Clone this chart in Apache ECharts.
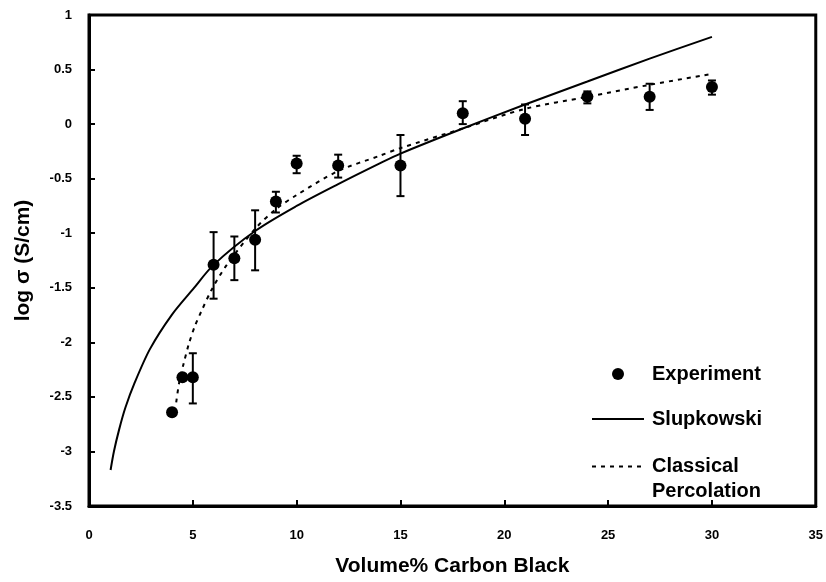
<!DOCTYPE html>
<html>
<head>
<meta charset="utf-8">
<title>log sigma vs carbon black</title>
<script src="https://cdn.jsdelivr.net/npm/echarts@6/dist/echarts.min.js"></script>
<style>
  html, body { margin: 0; padding: 0; background: #fff; }
  #chart { width: 826px; height: 582px; }
</style>
</head>
<body>
<div id="chart"></div>
<script>
// experiment: volume% carbon black, log sigma, error bar low / high
var expX = [4, 4.5, 5, 6, 7, 8, 9, 10, 12, 15, 18, 21, 24, 27, 30]
var expY = [-2.64, -2.32, -2.32, -1.29, -1.23, -1.06, -0.71, -0.36, -0.38, -0.38, 0.10, 0.05, 0.25, 0.25, 0.34]
var expLow = [-2.67, -2.34, -2.56, -1.60, -1.43, -1.34, -0.81, -0.45, -0.49, -0.66, 0.00, -0.10, 0.19, 0.13, 0.27]
var expHigh = [-2.61, -2.30, -2.10, -0.99, -1.03, -0.79, -0.62, -0.29, -0.28, -0.10, 0.21, 0.18, 0.30, 0.37, 0.40]

// Slupkowski model curve
var slupX = [1.04, 1.2, 1.45, 1.75, 2.2, 2.94, 3.98, 5.02, 6, 8, 10, 12, 14, 15, 18, 21, 24, 27, 30]
var slupY = [-3.17, -3.0, -2.8, -2.6, -2.37, -2.06, -1.75, -1.51, -1.29, -0.98, -0.75, -0.55, -0.36, -0.27, -0.04, 0.18, 0.39, 0.60, 0.80]

// classical percolation curve
var percX = [4.2, 4.35, 4.55, 4.8, 5.1, 5.4, 5.9, 6.6, 8, 9, 10, 12, 14, 15, 18, 21, 24, 27, 30]
var percY = [-2.55, -2.36, -2.2, -2.02, -1.85, -1.72, -1.52, -1.30, -0.96, -0.78, -0.65, -0.43, -0.29, -0.22, -0.04, 0.14, 0.25, 0.36, 0.46]

function zip(a, b) {
  return a.map(function(v, i) { return [v, b[i]] })
}

var font = "'Liberation Sans', Arial, Helvetica, sans-serif"
var legendText = { fontFamily: font, fontWeight: 'bold', fontSize: 20, color: '#000', padding: [0, 0, 0, 3] }
var chart = echarts.init(document.getElementById('chart'))

chart.setOption({
  backgroundColor: '#fff',
  animation: false,
  textStyle: { fontFamily: font, color: '#000' },
  grid: {
    left: 89, right: 10, top: 15, bottom: 74,
    show: true, borderColor: '#000', borderWidth: 3
  },
  legend: [
    {
      data: ['Experiment'], left: 612, top: 362, padding: 0,
      itemWidth: 52, itemHeight: 12, itemGap: 0,
      textStyle: Object.assign({ lineHeight: 24 }, legendText)
    },
    {
      data: ['Slupkowski'], left: 591, top: 407, padding: 0,
      itemWidth: 52, itemHeight: 12, itemGap: 0,
      itemStyle: { opacity: 0 },
      textStyle: Object.assign({ lineHeight: 24 }, legendText)
    },
    {
      data: ['Classical Percolation'], left: 591, top: 429, padding: 0,
      itemWidth: 52, itemHeight: 12, itemGap: 0,
      itemStyle: { opacity: 0 },
      formatter: function() { return '\nClassical\nPercolation' },
      textStyle: Object.assign({ lineHeight: 25 }, legendText)
    }
  ],
  xAxis: {
    type: 'value', min: 0, max: 35, interval: 5,
    name: 'Volume% Carbon Black', nameLocation: 'middle', nameGap: 50,
    nameTextStyle: { fontFamily: font, fontWeight: 'bold', fontSize: 21, color: '#000' },
    axisLine: { onZero: false, lineStyle: { color: '#000', width: 3 } },
    axisTick: { inside: true, length: 6, lineStyle: { color: '#000', width: 2 } },
    axisLabel: { margin: 23, fontFamily: font, fontWeight: 'bold', fontSize: 13, color: '#000' },
    splitLine: { show: false }
  },
  yAxis: {
    type: 'value', min: -3.5, max: 1, interval: 0.5,
    name: 'log σ (S/cm)', nameLocation: 'middle', nameGap: 55,
    nameTextStyle: { fontFamily: font, fontWeight: 'bold', fontSize: 21, color: '#000' },
    axisLine: { onZero: false, lineStyle: { color: '#000', width: 3 } },
    axisTick: { inside: true, length: 6, lineStyle: { color: '#000', width: 2 } },
    axisLabel: { margin: 17, fontFamily: font, fontWeight: 'bold', fontSize: 13, color: '#000' },
    splitLine: { show: false }
  },
  series: [
    {
      name: 'Slupkowski',
      type: 'line',
      data: zip(slupX, slupY),
      smooth: 0.3,
      symbol: 'none',
      lineStyle: { color: '#000', width: 2 },
      itemStyle: { color: '#000' }
    },
    {
      name: 'Classical Percolation',
      type: 'line',
      data: zip(percX, percY),
      smooth: 0.3,
      symbol: 'none',
      lineStyle: { color: '#000', width: 2, type: [4, 5] },
      itemStyle: { color: '#000' }
    },
    {
      name: 'errorbars',
      type: 'custom',
      data: expX.map(function(x, i) { return [x, expLow[i], expHigh[i]] }),
      renderItem: function(params, api) {
        var lo = api.coord([api.value(0), api.value(1)])
        var hi = api.coord([api.value(0), api.value(2)])
        var w = 4
        var st = { stroke: '#000', lineWidth: 2 }
        return {
          type: 'group',
          children: [
            { type: 'line', shape: { x1: lo[0], y1: lo[1], x2: hi[0], y2: hi[1] }, style: st },
            { type: 'line', shape: { x1: lo[0] - w, y1: lo[1], x2: lo[0] + w, y2: lo[1] }, style: st },
            { type: 'line', shape: { x1: hi[0] - w, y1: hi[1], x2: hi[0] + w, y2: hi[1] }, style: st }
          ]
        }
      },
      z: 3
    },
    {
      name: 'Experiment',
      type: 'scatter',
      data: zip(expX, expY),
      symbol: 'circle',
      symbolSize: 12,
      itemStyle: { color: '#000', opacity: 1 },
      z: 4
    }
  ]
})
</script>
</body>
</html>
